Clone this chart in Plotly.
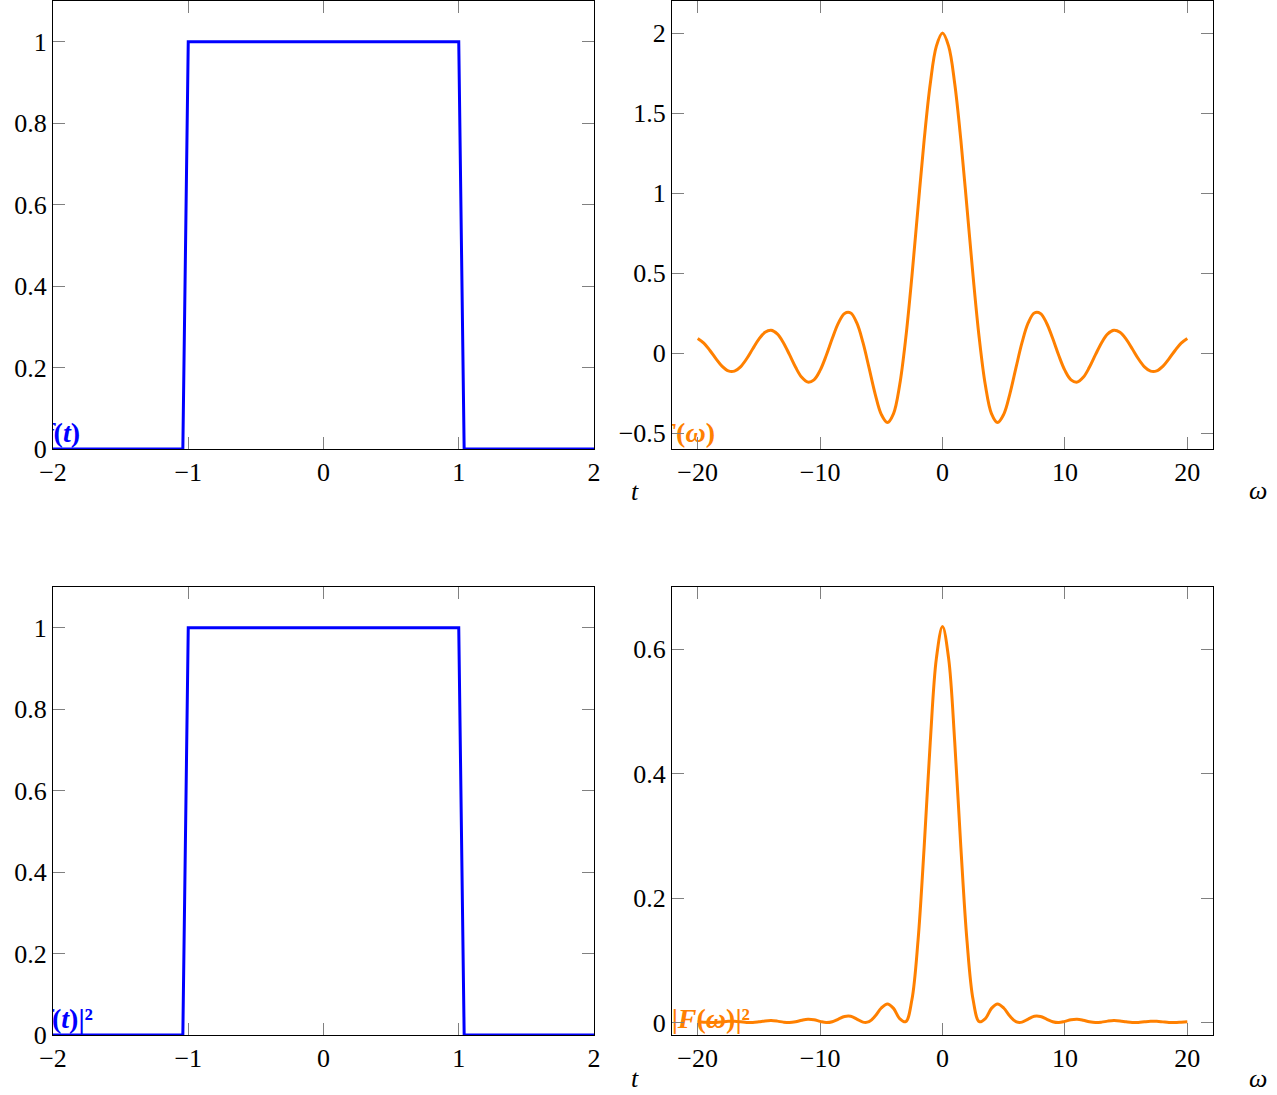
import plotly.graph_objects as go

# ---------------- data ----------------
t_vals = [-2.0, -1.04, -1.0, 1.0, 1.04, 2.0]
f_vals = [0, 0, 1, 1, 0, 0]
f2_vals = [0, 0, 1, 1, 0, 0]

w_vals = [-20.0, -19.5, -19.0, -18.5, -18.0, -17.5, -17.0, -16.5, -16.0, -15.5,
          -15.0, -14.5, -14.0, -13.5, -13.0, -12.5, -12.0, -11.5, -11.0, -10.5,
          -10.0, -9.5, -9.0, -8.5, -8.0, -7.5, -7.0, -6.5, -6.0, -5.5,
          -5.0, -4.5, -4.0, -3.5, -3.0, -2.5, -2.0, -1.5, -1.0, -0.5,
          0.0, 0.5, 1.0, 1.5, 2.0, 2.5, 3.0, 3.5, 4.0, 4.5,
          5.0, 5.5, 6.0, 6.5, 7.0, 7.5, 8.0, 8.5, 9.0, 9.5,
          10.0, 10.5, 11.0, 11.5, 12.0, 12.5, 13.0, 13.5, 14.0, 14.5,
          15.0, 15.5, 16.0, 16.5, 17.0, 17.5, 18.0, 18.5, 19.0, 19.5, 20.0]

F_vals = [0.0913, 0.0621, 0.0158, -0.0366, -0.0834, -0.1119, -0.1131, -0.0863, -0.0360, 0.0266,
          0.0867, 0.1290, 0.1415, 0.1191, 0.0646, -0.0106, -0.0894, -0.1523, -0.1818, -0.1676,
          -0.1088, -0.0158, 0.0916, 0.1879, 0.2474, 0.2501, 0.1877, 0.0662, -0.0931, -0.2565,
          -0.3836, -0.4344, -0.3784, -0.2005, 0.0941, 0.4788, 0.9093, 1.3300, 1.6829, 1.9177,
          2.0000, 1.9177, 1.6829, 1.3300, 0.9093, 0.4788, 0.0941, -0.2005, -0.3784, -0.4344,
          -0.3836, -0.2565, -0.0931, 0.0662, 0.1877, 0.2501, 0.2474, 0.1879, 0.0916, -0.0158,
          -0.1088, -0.1676, -0.1818, -0.1523, -0.0894, -0.0106, 0.0646, 0.1191, 0.1415, 0.1290,
          0.0867, 0.0266, -0.0360, -0.0863, -0.1131, -0.1119, -0.0834, -0.0366, 0.0158, 0.0621, 0.0913]

P_vals = [0.0013, 0.0006, 0.0000, 0.0002, 0.0011, 0.0020, 0.0020, 0.0012, 0.0002, 0.0001,
          0.0012, 0.0026, 0.0032, 0.0023, 0.0007, 0.0000, 0.0013, 0.0037, 0.0053, 0.0045,
          0.0019, 0.0000, 0.0013, 0.0056, 0.0097, 0.0100, 0.0056, 0.0007, 0.0014, 0.0105,
          0.0234, 0.0300, 0.0228, 0.0064, 0.0014, 0.0365, 0.1316, 0.2815, 0.4507, 0.5853,
          0.6366, 0.5853, 0.4507, 0.2815, 0.1316, 0.0365, 0.0014, 0.0064, 0.0228, 0.0300,
          0.0234, 0.0105, 0.0014, 0.0007, 0.0056, 0.0100, 0.0097, 0.0056, 0.0013, 0.0000,
          0.0019, 0.0045, 0.0053, 0.0037, 0.0013, 0.0000, 0.0007, 0.0023, 0.0032, 0.0026,
          0.0012, 0.0001, 0.0002, 0.0012, 0.0020, 0.0020, 0.0011, 0.0002, 0.0000, 0.0006, 0.0013]

t_ticks = [-2, -1, 0, 1, 2]
w_ticks = [-20, -10, 0, 10, 20]
f_ticks = [0, 0.2, 0.4, 0.6, 0.8, 1]
F_ticks = [-0.5, 0, 0.5, 1, 1.5, 2]
P_ticks = [0, 0.2, 0.4, 0.6]

labels = ["<b><i>f</i>(<i>t</i>)</b>", "<b><i>F</i>(<i>ω</i>)</b>",
          "<b>|<i>f</i>(<i>t</i>)|²</b>", "<b>|<i>F</i>(<i>ω</i>)|²</b>"]

BLUE = "#0000ff"
ORANGE = "#ff8000"
FONT = "Liberation Serif"

W, H = 1277, 1095

def px_x(p):
    return p / W

def px_y(p):
    return 1 - p / H

fig = go.Figure()

panels = [
    # data x, data y, colour, shape, axis id, label, label right-edge offset(px), xrange, yrange, xticks, yticks, x px, y px
    (t_vals, f_vals, BLUE, "linear", "", labels[0], 27, [-2, 2], [0, 1.1], t_ticks, f_ticks, (53, 594), (1, 449)),
    (w_vals, F_vals, ORANGE, "spline", "2", labels[1], 43, [-22.1, 22.1], [-0.6, 2.2], w_ticks, F_ticks, (672, 1213), (1, 449)),
    (t_vals, f2_vals, BLUE, "linear", "3", labels[2], 40, [-2, 2], [0, 1.1], t_ticks, f_ticks, (53, 594), (587, 1035)),
    (w_vals, P_vals, ORANGE, "spline", "4", labels[3], 78, [-22.1, 22.1], [-0.02, 0.7], w_ticks, P_ticks, (672, 1213), (587, 1035)),
]

layout = {}
for xs, ys, col, shape, aid, lab, loff, xr, yr, xt, yt, xpx, ypx in panels:
    fig.add_trace(go.Scatter(x=xs, y=ys, mode="lines",
                             line=dict(color=col, width=3, shape=shape),
                             xaxis="x" + aid, yaxis="y" + aid, showlegend=False,
                             hoverinfo="skip", cliponaxis=False))
    lx = xr[0] + loff * (xr[1] - xr[0]) / (xpx[1] - xpx[0])
    fig.add_trace(go.Scatter(x=[lx], y=[yr[0]], mode="text", text=[lab],
                             textposition="top left",
                             textfont=dict(family=FONT, size=28, color=col),
                             xaxis="x" + aid, yaxis="y" + aid, showlegend=False,
                             hoverinfo="skip", cliponaxis=True))
    axcommon = dict(showline=True, linecolor="black", linewidth=1, mirror="allticks",
                    ticks="inside", ticklen=12, tickcolor="#808080", tickwidth=1,
                    showgrid=False, zeroline=False, automargin=False,
                    tickfont=dict(family=FONT, size=26, color="black"))
    layout["xaxis" + aid] = dict(axcommon, range=xr, tickvals=xt,
                                 domain=[px_x(xpx[0]), px_x(xpx[1])],
                                 anchor="y" + aid)
    layout["yaxis" + aid] = dict(axcommon, range=yr, tickvals=yt,
                                 domain=[px_y(ypx[1]), px_y(ypx[0])],
                                 anchor="x" + aid)

fig.update_layout(**layout)

annots = []
for (xp, yp, txt) in [(635, 491, "t"), (1258, 490, "ω"), (635, 1078, "t"), (1258, 1078, "ω")]:
    annots.append(dict(x=px_x(xp), y=px_y(yp), xref="paper", yref="paper",
                       text="<i>" + txt + "</i>", showarrow=False,
                       font=dict(family=FONT, size=26, color="black"),
                       xanchor="center", yanchor="middle"))

fig.update_layout(width=W, height=H, margin=dict(l=0, r=0, t=0, b=0),
                  paper_bgcolor="white", plot_bgcolor="white",
                  annotations=annots, showlegend=False,
                  font=dict(family=FONT))

fig.write_html("out.html", config={"displayModeBar": False},
               post_script="document.body.style.margin='0';document.body.style.overflow='hidden';")
